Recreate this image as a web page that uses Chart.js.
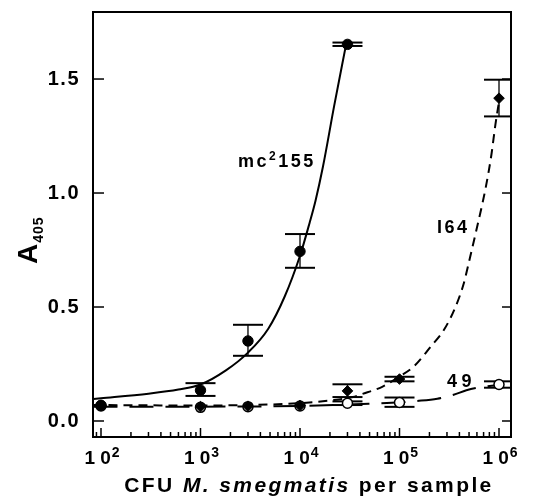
<!DOCTYPE html>
<html>
<head>
<meta charset="utf-8">
<script src="https://cdn.jsdelivr.net/npm/chart.js@4.4.1/dist/chart.umd.min.js"></script>
<style>
  html, body { margin: 0; padding: 0; background: #fff; }
  #wrap { width: 534px; height: 499px; }
</style>
</head>
<body>
<div id="wrap"><canvas id="chart" width="534" height="499"></canvas></div>
<script>
// measured points (CFU per sample)
const cfu = [100, 1000, 3000, 10000, 30000, 100000, 1000000];
const mc155 = [0.069, 0.135, 0.351, 0.744, 1.652, null, null];
const i64 = [0.068, 0.063, 0.065, 0.068, 0.132, 0.184, 1.416];
const s49 = [0.066, 0.060, 0.063, 0.066, 0.078, 0.081, 0.160];

// error bars (low / high)
const mc155Lo = [null, 0.110, 0.286, 0.672, 1.645, null, null];
const mc155Hi = [null, 0.166, 0.422, 0.820, 1.660, null, null];
const i64Lo = [null, null, null, null, 0.105, 0.174, 1.336];
const i64Hi = [null, null, null, null, 0.161, 0.194, 1.497];
const s49Lo = [null, null, null, null, 0.070, 0.062, 0.146];
const s49Hi = [null, null, null, null, 0.086, 0.103, 0.174];

// fitted curves
const mcCurveX = [84, 100, 300, 600, 1000, 1800, 3000, 4800, 7000, 10000, 12500, 14300, 17000, 22000, 29000];
const mcCurveY = [0.097, 0.100, 0.120, 0.138, 0.160, 0.222, 0.300, 0.405, 0.545, 0.725, 0.870, 0.965, 1.115, 1.380, 1.650];
const i64CurveX = [84, 1000, 3000, 10000, 20000, 34000, 42000, 67000, 100000, 140000, 205000, 280000, 365000, 440000, 510000, 580000, 740000, 840000, 920000, 1000000];
const i64CurveY = [0.070, 0.068, 0.070, 0.078, 0.090, 0.105, 0.118, 0.150, 0.195, 0.240, 0.325, 0.400, 0.500, 0.600, 0.715, 0.820, 1.030, 1.170, 1.300, 1.400];
const s49CurveX = [84, 1000, 10000, 30000, 49000, 100000, 150000, 240000, 350000, 470000, 690000, 1000000, 1100000];
const s49CurveY = [0.062, 0.063, 0.066, 0.072, 0.076, 0.082, 0.088, 0.098, 0.115, 0.135, 0.150, 0.157, 0.158];

const xTicks = [100, 1000, 10000, 100000, 1000000];
const xTickExp = ['2', '3', '4', '5', '6'];
const yTicks = [0, 0.5, 1.0, 1.5];
const yTickLabels = ['0.0', '0.5', '1.0', '1.5'];

const FONT = "'Liberation Sans', Arial, Helvetica, sans-serif";

const toPts = (xs, ys) => xs.map((v, i) => ({ x: v, y: ys[i] })).filter(p => p.y != null);

const errorSets = [
    { lo: mc155Lo, hi: mc155Hi },
    { lo: i64Lo, hi: i64Hi },
    { lo: s49Lo, hi: s49Hi }
];

function seg(ctx, x1, y1, x2, y2) {
    ctx.beginPath();
    ctx.moveTo(x1, y1);
    ctx.lineTo(x2, y2);
    ctx.stroke();
}

const decor = {
    id: 'decor',
    beforeDraw(chart) {
        chart.ctx.letterSpacing = '1.5px';
    },
    beforeDatasetsDraw(chart) {
        const { ctx, chartArea: a, scales: { x, y } } = chart;
        ctx.save();
        ctx.beginPath();
        ctx.rect(a.left, a.top, a.right - a.left, a.bottom - a.top);
        ctx.clip();
        ctx.strokeStyle = '#000';
        errorSets.forEach(s => {
            cfu.forEach((c, i) => {
                if (s.lo[i] == null) return;
                const px = x.getPixelForValue(c);
                const lo = y.getPixelForValue(s.lo[i]);
                const hi = y.getPixelForValue(s.hi[i]);
                ctx.lineWidth = 1.3;
                seg(ctx, px, lo, px, hi);
                ctx.lineWidth = 2;
                seg(ctx, px - 15, lo, px + 15, lo);
                seg(ctx, px - 15, hi, px + 15, hi);
            });
        });
        ctx.restore();
    },
    afterDraw(chart) {
        const { ctx, chartArea: a, scales: { x, y } } = chart;
        ctx.save();
        ctx.strokeStyle = '#000';
        ctx.fillStyle = '#000';

        // frame
        ctx.lineWidth = 2;
        ctx.strokeRect(a.left, a.top, a.right - a.left, a.bottom - a.top);

        // inward ticks
        ctx.lineWidth = 1.5;
        yTicks.forEach(v => {
            const py = y.getPixelForValue(v);
            seg(ctx, a.left, py, a.left + 11, py);
            seg(ctx, a.right, py, a.right - 9, py);
        });
        for (let k = 1; k <= 6; k++) {
            for (let m = 1; m <= 9; m++) {
                const v = m * Math.pow(10, k);
                if (v < x.min || v > x.max) continue;
                const px = x.getPixelForValue(v);
                seg(ctx, px, a.bottom, px, a.bottom - (m === 1 ? 9 : 5));
            }
        }

        // x tick labels: "1 0" with a raised exponent
        ctx.textBaseline = 'alphabetic';
        ctx.textAlign = 'left';
        xTicks.forEach((v, i) => {
            const px = x.getPixelForValue(v);
            ctx.letterSpacing = '0px';
            ctx.font = 'bold 19px ' + FONT;
            const base = '1 0';
            const bw = ctx.measureText(base).width;
            ctx.font = 'bold 14px ' + FONT;
            const ew = ctx.measureText(xTickExp[i]).width;
            const left = px - (bw + 1 + ew) / 2 + 1;
            ctx.font = 'bold 19px ' + FONT;
            ctx.fillText(base, left, 464);
            ctx.font = 'bold 14px ' + FONT;
            ctx.fillText(xTickExp[i], left + bw + 1, 457);
        });

        // curve labels
        ctx.letterSpacing = '2.5px';
        let px = x.getPixelForValue(2380), py = y.getPixelForValue(1.114);
        ctx.font = 'bold 18px ' + FONT;
        ctx.fillText('mc', px, py);
        px += ctx.measureText('mc').width;
        ctx.font = 'bold 12px ' + FONT;
        ctx.fillText('2', px, py - 7);
        px += ctx.measureText('2').width;
        ctx.font = 'bold 18px ' + FONT;
        ctx.fillText('155', px, py);

        ctx.fillText('I64', x.getPixelForValue(238000), y.getPixelForValue(0.825));
        ctx.letterSpacing = '4.5px';
        ctx.fillText('49', x.getPixelForValue(300000), y.getPixelForValue(0.149));

        // x axis title
        ctx.letterSpacing = '2.4px';
        const parts = [
            ['CFU ', 'bold 21px '],
            ['M. smegmatis', 'italic bold 21px '],
            [' per sample', 'bold 21px ']
        ];
        let total = 0;
        parts.forEach(p => { ctx.font = p[1] + FONT; total += ctx.measureText(p[0]).width; });
        let tx = (a.left + a.right) / 2 - total / 2 + 7;
        parts.forEach(p => {
            ctx.font = p[1] + FONT;
            ctx.fillText(p[0], tx, 492);
            tx += ctx.measureText(p[0]).width;
        });

        // y axis title A405
        ctx.translate(37, 264);
        ctx.rotate(-Math.PI / 2);
        ctx.letterSpacing = '0px';
        ctx.font = 'bold 28px ' + FONT;
        ctx.fillText('A', 0, 0);
        const aw = ctx.measureText('A').width;
        ctx.letterSpacing = '1px';
        ctx.font = 'bold 14px ' + FONT;
        ctx.fillText('405', aw + 1, 6);
        ctx.restore();
    }
};

new Chart(document.getElementById('chart'), {
    type: 'line',
    data: {
        datasets: [
            {
                label: 'mc2155',
                data: toPts(cfu, mc155),
                showLine: false,
                pointStyle: 'circle',
                pointRadius: 5.2,
                pointBackgroundColor: '#000',
                pointBorderColor: '#000',
                pointBorderWidth: 1
            },
            {
                label: 'I64',
                data: toPts(cfu, i64),
                showLine: false,
                pointStyle: 'rectRot',
                pointRadius: 5.3,
                pointBackgroundColor: '#000',
                pointBorderColor: '#000',
                pointBorderWidth: 1
            },
            {
                label: '49',
                data: toPts(cfu, s49),
                showLine: false,
                pointStyle: 'circle',
                pointRadius: 5,
                pointBackgroundColor: '#fff',
                pointBorderColor: '#000',
                pointBorderWidth: 1.5
            },
            {
                label: 'mc2155 fit',
                data: toPts(mcCurveX, mcCurveY),
                borderColor: '#000',
                borderWidth: 2,
                pointRadius: 0,
                cubicInterpolationMode: 'monotone'
            },
            {
                label: 'I64 fit',
                data: toPts(i64CurveX, i64CurveY),
                borderColor: '#000',
                borderWidth: 2,
                borderDash: [9, 6],
                pointRadius: 0,
                cubicInterpolationMode: 'monotone'
            },
            {
                label: '49 fit',
                data: toPts(s49CurveX, s49CurveY),
                borderColor: '#000',
                borderWidth: 2,
                borderDash: [24, 12],
                pointRadius: 0,
                cubicInterpolationMode: 'monotone'
            }
        ]
    },
    options: {
        responsive: false,
        animation: false,
        layout: { padding: { top: 12, right: 23, left: 0, bottom: 0 } },
        plugins: {
            legend: { display: false },
            tooltip: { enabled: false }
        },
        scales: {
            x: {
                type: 'logarithmic',
                min: 83.1,
                max: 1.32e6,
                border: { display: false },
                grid: { display: false },
                afterBuildTicks: scale => { scale.ticks = xTicks.map(v => ({ value: v })); },
                afterFit: scale => {
                    scale.height = 62;
                    scale.paddingLeft = 0;
                    scale.paddingRight = 0;
                },
                ticks: { display: false }
            },
            y: {
                min: -0.0702,
                max: 1.794,
                border: { display: false },
                grid: { display: false },
                afterBuildTicks: scale => { scale.ticks = yTicks.map(v => ({ value: v })); },
                afterFit: scale => {
                    scale.width = 93;
                    scale.paddingTop = 0;
                    scale.paddingBottom = 0;
                },
                ticks: {
                    padding: 5,
                    color: '#000',
                    font: { family: FONT, size: 20, weight: 'bold' },
                    callback: (v, i) => yTickLabels[i]
                }
            }
        }
    },
    plugins: [decor]
});
</script>
</body>
</html>
